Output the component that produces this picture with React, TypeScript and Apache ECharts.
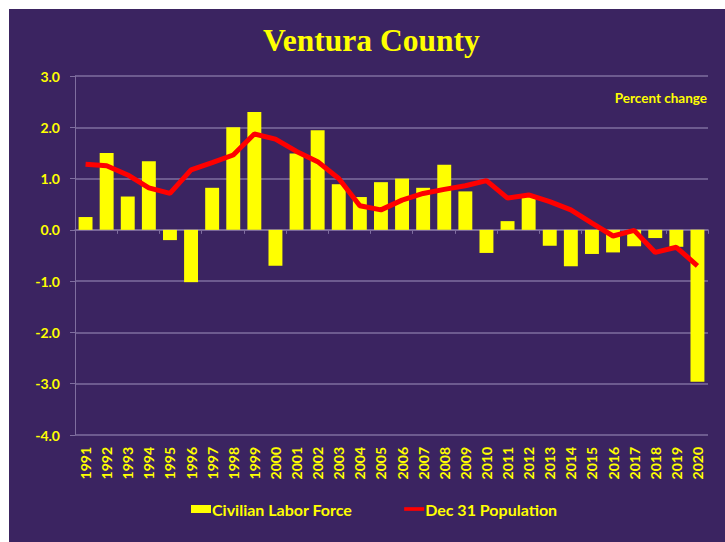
import React, { useEffect, useRef } from "react";
import * as echarts from "echarts";

const years = [
  "1991","1992","1993","1994","1995","1996","1997","1998","1999","2000",
  "2001","2002","2003","2004","2005","2006","2007","2008","2009","2010",
  "2011","2012","2013","2014","2015","2016","2017","2018","2019","2020",
];
const laborForce = [
  0.25, 1.5, 0.65, 1.34, -0.2, -1.02, 0.82, 2.0, 2.3, -0.7,
  1.49, 1.94, 0.89, 0.64, 0.93, 1.0, 0.82, 1.27, 0.75, -0.45,
  0.17, 0.65, -0.31, -0.71, -0.47, -0.44, -0.32, -0.16, -0.33, -2.96,
];
const population = [
  1.28, 1.25, 1.07, 0.82, 0.71, 1.17, 1.31, 1.46, 1.87, 1.77,
  1.53, 1.33, 1.0, 0.47, 0.39, 0.58, 0.71, 0.79, 0.86, 0.96,
  0.62, 0.68, 0.55, 0.39, 0.13, -0.12, -0.01, -0.44, -0.34, -0.7,
];
const yMin = -4;
const yMax = 3;
const yStep = 1;

const BG = "#3b2461";
const GRID = "#7f6e9f";
const YEL = "#ffff00";
const FONT = "Lato";

export default function App() {
  const ref = useRef<HTMLDivElement>(null);
  useEffect(() => {
    if (!ref.current) return;
    const chart = echarts.init(ref.current, null, { renderer: "svg" });
    chart.setOption({
      animation: false,
      backgroundColor: BG,
      title: {
        text: "Ventura County",
        left: 249,
        top: 10,
        textStyle: {
          color: YEL,
          fontFamily: "Liberation Serif",
          fontWeight: "bold",
          fontSize: 31.5,
        },
      },
      graphic: [
        {
          type: "text",
          right: 18,
          top: 82,
          style: {
            text: "Percent change",
            fill: YEL,
            font: `bold 13.5px ${FONT}`,
          },
        },
      ],
      legend: {
        bottom: 20,
        left: 177,
        itemWidth: 20,
        itemHeight: 8,
        itemGap: 52,
        textStyle: {
          color: YEL,
          fontFamily: FONT,
          fontWeight: "bold",
          fontSize: 16,
          padding: [0, 0, 0, -4],
        },
        data: [
          { name: "Civilian Labor Force", icon: "rect" },
          {
            name: "Dec 31 Population",
            icon: "path://M0,0 L22,0 L22,4 L0,4 Z",
            itemStyle: { color: "#ff0000" },
          },
        ],
      },
      grid: { left: 66, right: 17, top: 67, bottom: 107, containLabel: false },
      xAxis: [
        {
          type: "category",
          data: years,
          axisLine: { onZero: true, lineStyle: { color: GRID, width: 1.5 } },
          axisTick: { show: true, length: 4, lineStyle: { color: GRID } },
          axisLabel: { show: false },
        },
        {
          type: "category",
          data: years,
          position: "bottom",
          axisLine: { show: false, onZero: false },
          axisTick: { show: false },
          axisLabel: {
            rotate: 90,
            margin: 12,
            color: YEL,
            fontFamily: FONT,
            fontWeight: "bold",
            fontSize: 14,
            interval: 0,
          },
        },
      ],
      yAxis: {
        type: "value",
        min: yMin,
        max: yMax,
        interval: yStep,
        axisLine: { show: true, lineStyle: { color: GRID } },
        axisTick: { show: true, length: 5, lineStyle: { color: GRID } },
        splitLine: { lineStyle: { color: GRID, width: 1.5 } },
        axisLabel: {
          margin: 15,
          color: YEL,
          fontFamily: FONT,
          fontWeight: "bold",
          fontSize: 14,
          formatter: (v: number) => v.toFixed(1),
        },
      },
      series: [
        {
          name: "Civilian Labor Force",
          type: "bar",
          xAxisIndex: 0,
          data: laborForce,
          barWidth: "66%",
          itemStyle: { color: YEL },
          z: 2,
        },
        {
          name: "Dec 31 Population",
          type: "line",
          xAxisIndex: 0,
          data: population,
          symbol: "none",
          lineStyle: { color: "#ff0000", width: 5 },
          itemStyle: { color: "#ff0000" },
          z: 3,
        },
      ],
    });
    return () => chart.dispose();
  }, []);
  return (
    <div
      ref={ref}
      style={{ position: "absolute", left: 9, top: 9, width: 716, height: 533 }}
    />
  );
}
